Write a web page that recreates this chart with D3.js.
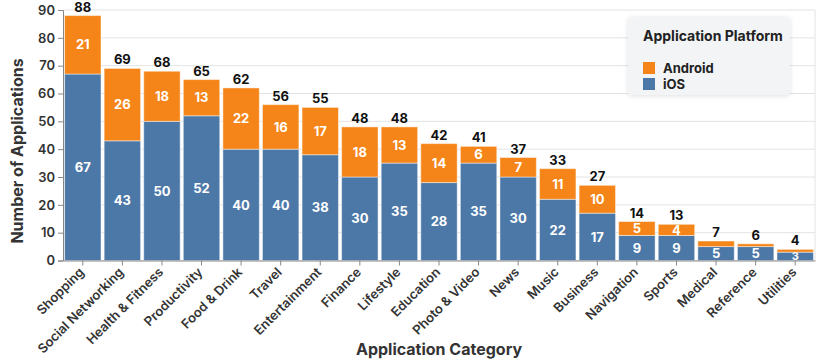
<!DOCTYPE html>
<html>
<head>
<meta charset="utf-8">
<script src="https://cdn.jsdelivr.net/npm/d3@7"></script>
<style>
  body { margin: 0; background: #fff; }
  svg { display: block; font-family: Inter, "Noto Sans", sans-serif; }
</style>
</head>
<body>
<script>
// Data
var categories = ["Shopping", "Social Networking", "Health & Fitness", "Productivity", "Food & Drink",
  "Travel", "Entertainment", "Finance", "Lifestyle", "Education", "Photo & Video", "News", "Music",
  "Business", "Navigation", "Sports", "Medical", "Reference", "Utilities"];
var iosValues = [67, 43, 50, 52, 40, 40, 38, 30, 35, 28, 35, 30, 22, 17, 9, 9, 5, 5, 3];
var androidValues = [21, 26, 18, 13, 22, 16, 17, 18, 13, 14, 6, 7, 11, 10, 5, 4, 2, 1, 1];
var yTicks = [0, 10, 20, 30, 40, 50, 60, 70, 80, 90];
var platforms = ["iOS", "Android"];
var legendOrder = ["Android", "iOS"];

function init() {
  var w = 830, h = 359;
  var left = 63, right = 815, top = 10, bottom = 260.5;

  var color = d3.scaleOrdinal().domain(platforms).range(["#4c78a8", "#f58518"]);

  var table = categories.map(function(c, i) {
    return {category: c, iOS: iosValues[i], Android: androidValues[i]};
  });
  var series = d3.stack().keys(platforms)(table);

  var xScale = d3.scaleBand()
    .domain(categories)
    .range([left, right])
    .paddingInner(0.08)
    .paddingOuter(0.04);

  var yScale = d3.scaleLinear().domain([0, 90]).range([bottom, top]);

  var svg = d3.select("body").append("svg")
    .attr("width", w)
    .attr("height", h);

  // grid
  svg.append("g")
    .selectAll("line")
    .data(yTicks)
    .enter()
    .append("line")
    .attr("x1", left).attr("x2", right)
    .attr("y1", function(d) { return yScale(d); })
    .attr("y2", function(d) { return yScale(d); })
    .attr("stroke", "#e3e3e3")
    .attr("stroke-width", 1);
  svg.append("line")
    .attr("x1", right).attr("x2", right)
    .attr("y1", top).attr("y2", bottom)
    .attr("stroke", "#e3e3e3");

  // bars
  var groups = svg.selectAll("g.series")
    .data(series)
    .enter()
    .append("g")
    .attr("class", "series")
    .style("fill", function(d) { return color(d.key); });

  groups.selectAll("rect")
    .data(function(d) { return d; })
    .enter()
    .append("rect")
    .attr("x", function(d) { return xScale(d.data.category); })
    .attr("y", function(d) { return yScale(d[1]); })
    .attr("height", function(d) { return yScale(d[0]) - yScale(d[1]); })
    .attr("width", xScale.bandwidth())
    .attr("stroke", "rgba(255,255,255,0.45)")
    .attr("stroke-width", 1);

  // segment labels
  groups.selectAll("text")
    .data(function(d) { return d.filter(function(p) { return p[1] - p[0] >= 3; }); })
    .enter()
    .append("text")
    .attr("x", function(d) { return xScale(d.data.category) + xScale.bandwidth() / 2; })
    .attr("y", function(d) { return yScale((d[0] + d[1]) / 2); })
    .attr("dy", "0.36em")
    .attr("text-anchor", "middle")
    .style("fill", "#fff")
    .style("font-weight", 700)
    .style("font-size", function(d) { return (d[1] - d[0]) < 4 ? "11px" : "13px"; })
    .text(function(d) { return d[1] - d[0]; });

  // totals
  svg.append("g")
    .selectAll("text")
    .data(table)
    .enter()
    .append("text")
    .attr("x", function(d) { return xScale(d.category) + xScale.bandwidth() / 2; })
    .attr("y", function(d) { return yScale(d.iOS + d.Android) - 4; })
    .attr("text-anchor", "middle")
    .style("font-size", "13px")
    .style("font-weight", 700)
    .style("fill", "#111")
    .text(function(d) { return d.iOS + d.Android; });

  // axes
  var yAxis = svg.append("g")
    .attr("transform", "translate(" + left + ",0)")
    .call(d3.axisLeft(yScale).tickValues(yTicks).tickSize(5).tickPadding(3));
  yAxis.select(".domain").attr("stroke", "#888");
  yAxis.selectAll(".tick line").attr("stroke", "#888");
  yAxis.selectAll("text")
    .style("font-size", "13px")
    .style("font-weight", 600)
    .style("fill", "#333")
    .style("font-family", "Inter, sans-serif");

  var xAxis = svg.append("g")
    .attr("transform", "translate(0," + bottom + ")")
    .call(d3.axisBottom(xScale).tickSize(5).tickSizeOuter(0));
  xAxis.select(".domain").attr("stroke", "#888");
  xAxis.selectAll(".tick line").attr("stroke", "#888");
  xAxis.selectAll("text")
    .attr("x", 0)
    .attr("y", 0)
    .attr("dy", 0)
    .attr("transform", "translate(2,12.5) rotate(-45)")
    .attr("text-anchor", "end")
    .style("font-size", "13px")
    .style("font-weight", 600)
    .style("fill", "#333")
    .style("font-family", "Inter, sans-serif");

  // axis titles
  svg.append("text")
    .attr("transform", "translate(23,151) rotate(-90)")
    .attr("text-anchor", "middle")
    .style("font-size", "16px")
    .style("font-weight", 700)
    .style("fill", "#333")
    .text("Number of Applications");

  svg.append("text")
    .attr("x", (left + right) / 2)
    .attr("y", 355)
    .attr("text-anchor", "middle")
    .style("font-size", "16px")
    .style("font-weight", 700)
    .style("fill", "#333")
    .text("Application Category");

  // legend
  var defs = svg.append("defs");
  var f = defs.append("filter").attr("id", "shadow")
    .attr("x", "-20%").attr("y", "-20%").attr("width", "140%").attr("height", "150%");
  f.append("feDropShadow")
    .attr("dx", 0).attr("dy", 1).attr("stdDeviation", 2.5)
    .attr("flood-color", "#000").attr("flood-opacity", 0.12);

  var legend = svg.append("g").attr("transform", "translate(628,17)");
  legend.append("rect")
    .attr("width", 162).attr("height", 78).attr("rx", 4)
    .attr("fill", "#f3f4f6")
    .attr("filter", "url(#shadow)");
  legend.append("text")
    .attr("x", 15).attr("y", 24)
    .style("font-size", "14px")
    .style("font-weight", 700)
    .style("fill", "#222")
    .text("Application Platform");
  var items = legend.selectAll("g.item")
    .data(legendOrder)
    .enter()
    .append("g")
    .attr("transform", function(d, i) { return "translate(15," + (45 + i * 16) + ")"; });
  items.append("rect")
    .attr("width", 12).attr("height", 12)
    .attr("fill", function(d) { return color(d); });
  items.append("text")
    .attr("x", 20).attr("y", 11)
    .style("font-size", "13px")
    .style("font-weight", 700)
    .style("fill", "#222")
    .text(function(d) { return d; });
}

window.onload = init;
</script>
</body>
</html>
